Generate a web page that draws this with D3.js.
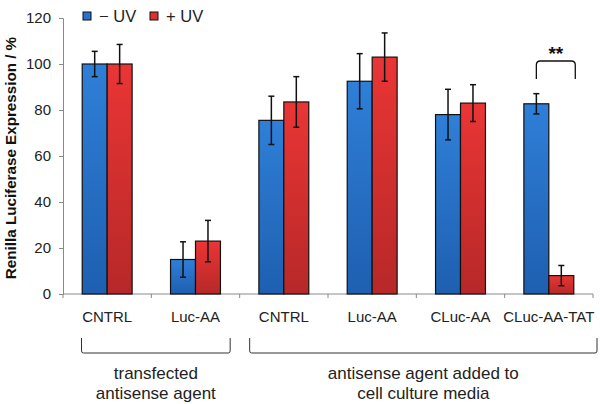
<!DOCTYPE html>
<html>
<head>
<meta charset="utf-8">
<script src="https://cdn.jsdelivr.net/npm/d3@7"></script>
<style>
  body { margin: 0; background: #fff; }
  svg { font-family: "Liberation Sans", Arial, sans-serif; }
</style>
</head>
<body>
<svg width="600" height="404"></svg>
<script>
// chart data
const categories = ["CNTRL", "Luc-AA", "CNTRL ", "Luc-AA ", "CLuc-AA", "CLuc-AA-TAT"];
const series = ["− UV", "+ UV"];
const minusUV = [100, 15, 75.5, 92.5, 78, 82.7];
const minusUVErr = [5.5, 7.7, 10.5, 12, 11, 4.4];
const plusUV = [100, 23, 83.5, 103, 83, 8];
const plusUVErr = [8.5, 9, 11, 10.5, 8, 4.4];
const yTicks = [0, 20, 40, 60, 80, 100, 120];
const groups = [
  { lines: ["transfected", "antisense agent"], from: 0, to: 1 },
  { lines: ["antisense agent added to", "cell culture media"], from: 2, to: 5 }
];

const data = categories.map((c, i) => ({
  cat: c,
  vals: [
    { s: series[0], v: minusUV[i], e: minusUVErr[i] },
    { s: series[1], v: plusUV[i], e: plusUVErr[i] }
  ]
}));

const svg = d3.select("svg");
const mLeft = 63, mRight = 593, mTop = 18, mBottom = 294;

const x = d3.scaleBand().domain(categories).range([mLeft, mRight]).padding(0);
const x1 = d3.scaleBand().domain(series).range([0, x.bandwidth()]).paddingInner(0).paddingOuter(0.77);
const y = d3.scaleLinear().domain([0, 120]).range([mBottom, mTop]);

// gradients
const defs = svg.append("defs");
const grad = (id, c1, c2) => {
  const g = defs.append("linearGradient").attr("id", id).attr("x1", 0).attr("y1", 0).attr("x2", 0).attr("y2", 1);
  g.append("stop").attr("offset", "0%").attr("stop-color", c1);
  g.append("stop").attr("offset", "100%").attr("stop-color", c2);
};
grad("gBlue", "#2f7fd8", "#1e5fb0");
grad("gRed", "#ea3535", "#b72828");
const fill = d3.scaleOrdinal().domain(series).range(["url(#gBlue)", "url(#gRed)"]);
const legendFill = d3.scaleOrdinal().domain(series).range(["#2a72cc", "#de3030"]);

// axes
const yAxis = svg.append("g")
  .attr("transform", `translate(${mLeft},0)`)
  .call(d3.axisLeft(y).tickValues(yTicks).tickSize(4).tickPadding(8));
yAxis.select(".domain").attr("stroke", "#8a8a8a");
yAxis.selectAll(".tick line").attr("stroke", "#8a8a8a");
yAxis.selectAll("text").attr("font-size", 15).attr("fill", "#222").attr("font-family", "Liberation Sans, Arial, sans-serif");

const xAxis = svg.append("g")
  .attr("transform", `translate(0,${mBottom})`)
  .call(d3.axisBottom(x).tickSize(0).tickPadding(17));
xAxis.select(".domain").remove();
xAxis.selectAll("text").attr("font-size", 15).attr("fill", "#222").attr("font-family", "Liberation Sans, Arial, sans-serif");
svg.append("line").attr("x1", mLeft).attr("x2", mRight).attr("y1", mBottom).attr("y2", mBottom).attr("stroke", "#8a8a8a");
svg.append("g").selectAll("line")
  .data(d3.range(categories.length + 1))
  .join("line")
  .attr("x1", i => mLeft + i * x.step()).attr("x2", i => mLeft + i * x.step())
  .attr("y1", mBottom).attr("y2", mBottom + 4)
  .attr("stroke", "#8a8a8a");

// y title
svg.append("text")
  .attr("transform", `translate(16,${(mTop + mBottom) / 2 + 2}) rotate(-90)`)
  .attr("text-anchor", "middle")
  .attr("font-size", 15.2)
  .attr("font-weight", "bold")
  .attr("fill", "#111")
  .text("Renilla Luciferase Expression / %");

// bars
const cat = svg.append("g").selectAll("g")
  .data(data)
  .join("g")
  .attr("transform", d => `translate(${x(d.cat)},0)`);

cat.selectAll("rect")
  .data(d => d.vals)
  .join("rect")
  .attr("x", d => x1(d.s))
  .attr("width", x1.bandwidth())
  .attr("y", d => y(d.v))
  .attr("height", d => y(0) - y(d.v))
  .attr("fill", d => fill(d.s))
  .attr("stroke", "#111")
  .attr("stroke-width", 1.2);

// error bars
const eb = cat.selectAll("g.err")
  .data(d => d.vals)
  .join("g")
  .attr("class", "err")
  .attr("stroke", "#111")
  .attr("stroke-width", 1.5);
const cx = d => x1(d.s) + x1.bandwidth() / 2;
eb.append("line").attr("x1", cx).attr("x2", cx).attr("y1", d => y(d.v + d.e)).attr("y2", d => y(d.v - d.e));
eb.append("line").attr("x1", d => cx(d) - 3).attr("x2", d => cx(d) + 3).attr("y1", d => y(d.v + d.e)).attr("y2", d => y(d.v + d.e));
eb.append("line").attr("x1", d => cx(d) - 3).attr("x2", d => cx(d) + 3).attr("y1", d => y(d.v - d.e)).attr("y2", d => y(d.v - d.e));

// significance bracket
const last = categories[5];
const bx1 = x(last) + x1(series[0]) + x1.bandwidth() / 2;
const bx2 = x(last) + x1(series[1]) + x1.bandwidth() + 1.5;
const by = 61, byb = 79, r = 4;
svg.append("path")
  .attr("d", `M${bx1},${byb} L${bx1},${by + r} Q${bx1},${by} ${bx1 + r},${by} L${bx2 - r},${by} Q${bx2},${by} ${bx2},${by + r} L${bx2},${byb}`)
  .attr("fill", "none").attr("stroke", "#111").attr("stroke-width", 1.3);
svg.append("text")
  .attr("x", (bx1 + bx2) / 2).attr("y", 60)
  .attr("text-anchor", "middle")
  .attr("font-size", 19).attr("font-weight", "bold").attr("fill", "#111")
  .text("**");

// legend
const lg = svg.append("g").selectAll("g")
  .data(series)
  .join("g")
  .attr("transform", (d, i) => `translate(${83 + i * 67},12)`);
lg.append("rect").attr("width", 8).attr("height", 8)
  .attr("fill", d => legendFill(d)).attr("stroke", "#111").attr("stroke-width", 1);
lg.append("text").attr("x", 16).attr("y", 9.5)
  .attr("font-size", 16.5).attr("fill", "#222")
  .text(d => d);

// group brackets
const gTop = 338, gBot = 353;
const gg = svg.append("g").selectAll("g").data(groups).join("g");
const gx1 = d => d.from === 0 ? 81.5 : x(categories[d.from]) + 10;
const gx2 = d => d.to === 5 ? 597 : x(categories[d.to]) + x.bandwidth() - 9.5;
gg.append("path")
  .attr("d", d => `M${gx1(d)},${gTop} L${gx1(d)},${gBot - 2} Q${gx1(d)},${gBot} ${gx1(d) + 2},${gBot} L${gx2(d) - 2},${gBot} Q${gx2(d)},${gBot} ${gx2(d)},${gBot - 2} L${gx2(d)},${gTop}`)
  .attr("fill", "none").attr("stroke", "#333").attr("stroke-width", 1);
gg.each(function(d) {
  const t = d3.select(this).append("text")
    .attr("text-anchor", "middle")
    .attr("font-size", 17).attr("fill", "#222");
  d.lines.forEach((l, i) => {
    t.append("tspan").attr("x", (gx1(d) + gx2(d)) / 2).attr("y", 379 + i * 20).text(l);
  });
});
</script>
</body>
</html>
